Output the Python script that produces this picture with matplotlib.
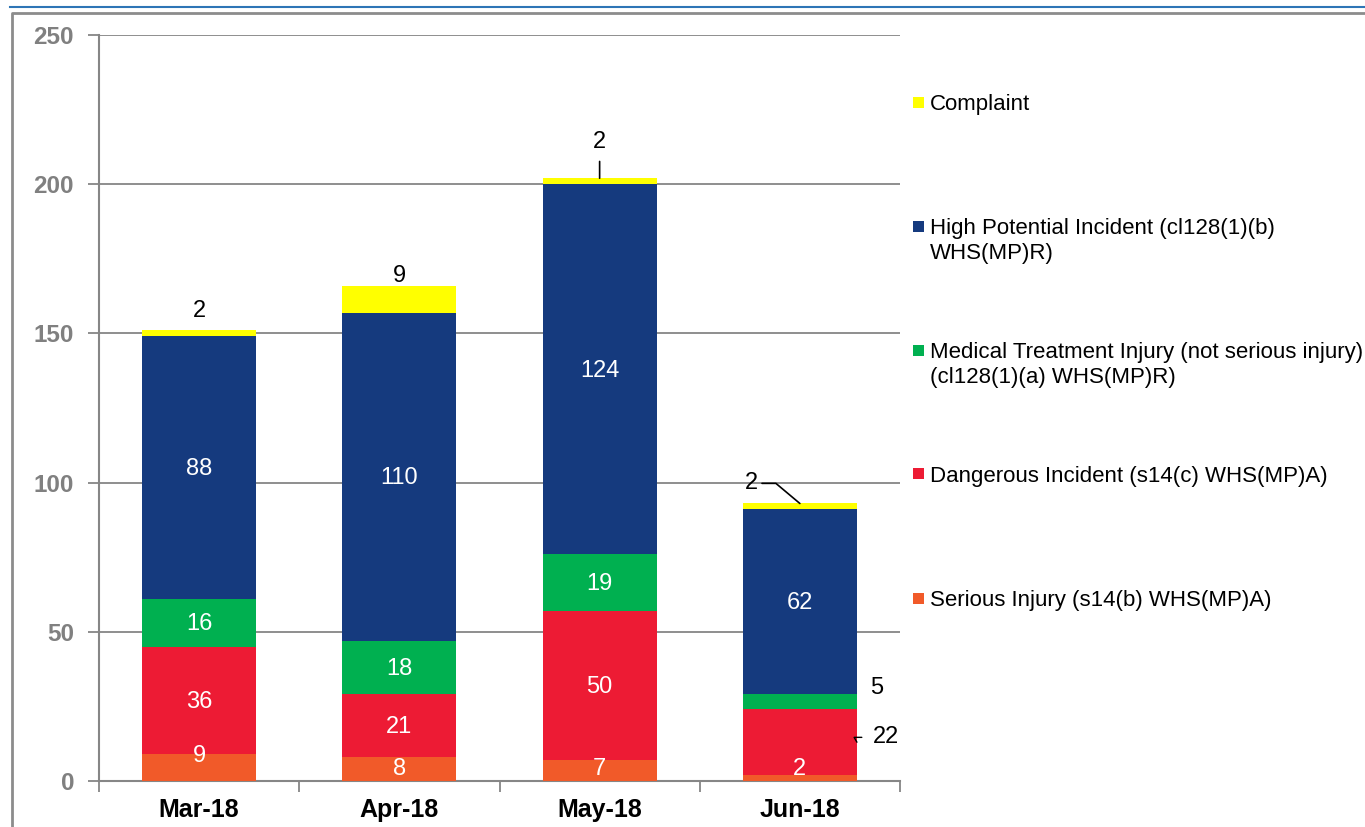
import matplotlib
matplotlib.use('Agg')
import matplotlib.pyplot as plt
from matplotlib.patches import Rectangle
from matplotlib.lines import Line2D
import numpy as np

plt.rcParams['font.family'] = ['Liberation Sans', 'DejaVu Sans']

# ---------------- data ----------------
months = ['Mar-18', 'Apr-18', 'May-18', 'Jun-18']
serious_injury = [9, 8, 7, 2]
dangerous_incident = [36, 21, 50, 22]
medical_treatment = [16, 18, 19, 5]
high_potential = [88, 110, 124, 62]
complaint = [2, 9, 2, 2]

series_names = [
    'Serious Injury (s14(b) WHS(MP)A)',
    'Dangerous Incident (s14(c) WHS(MP)A)',
    'Medical Treatment Injury (not serious injury)\n(cl128(1)(a) WHS(MP)R)',
    'High Potential Incident (cl128(1)(b)\nWHS(MP)R)',
    'Complaint',
]
series_colors = ['#F15A29', '#ED1B34', '#00B050', '#153A7E', '#FFFF00']
y_ticks = [0, 50, 100, 150, 200, 250]

series = [serious_injury, dangerous_incident, medical_treatment, high_potential, complaint]

# ---------------- figure ----------------
W, H = 1365, 827
fig = plt.figure(figsize=(W / 100, H / 100), dpi=100)
ax = fig.add_axes([99 / W, 1 - 781 / H, 801 / W, 746 / H])

x = np.arange(len(months))
bw = 0.57
bottom = np.zeros(len(months))
bars = []
for vals, col in zip(series, series_colors):
    b = ax.bar(x, vals, width=bw, bottom=bottom, color=col, edgecolor='none', zorder=3)
    bars.append((b, bottom.copy(), np.array(vals)))
    bottom = bottom + np.array(vals)

ax.set_xlim(-0.5, 3.5)
ax.set_ylim(0, 250)

grey = '#868686'
ax.set_yticks(y_ticks)
ax.yaxis.grid(True, color=grey, lw=1.3, zorder=0)
ax.set_axisbelow(True)
for s in ['top', 'right']:
    ax.spines[s].set_visible(False)
for s in ['left', 'bottom']:
    ax.spines[s].set_color(grey)
    ax.spines[s].set_linewidth(1.5)
ax.tick_params(axis='y', direction='out', length=8, width=1.3, color=grey,
               labelsize=17.5, labelcolor='#808080', pad=10)
for lab in ax.get_yticklabels():
    lab.set_fontweight('bold')

ax.set_xticks(np.arange(-0.5, 4, 1))
ax.set_xticklabels([])
ax.tick_params(axis='x', which='major', direction='out', length=8, width=1.3, color=grey)
ax.set_xticks(x, minor=True)
ax.set_xticklabels(months, minor=True, fontsize=18, fontweight='bold', color='black')
ax.tick_params(axis='x', which='minor', length=0, pad=12)

# ---------------- data labels ----------------
lab_fs = 17
for si in range(4):
    b, bot, vals = bars[si]
    for i in range(len(months)):
        v = vals[i]
        cy = bot[i] + v / 2.0
        if si == 2 and i == 3:
            ax.annotate(str(v), xy=(i + bw / 2, cy), xytext=(9.5, 10), textcoords='offset points',
                        ha='left', va='center', fontsize=lab_fs, color='black')
            continue
        if si == 1 and i == 3:
            ax.annotate(str(v), xy=(i + bw / 2, cy), xytext=(11.5, 3.5), textcoords='offset points',
                        ha='left', va='center', fontsize=lab_fs, color='black',
                        arrowprops=dict(arrowstyle='-', color='black', lw=1, shrinkA=6, shrinkB=0,
                                        connectionstyle='angle,angleA=0,angleB=-60,rad=0'))
            continue
        cy = max(cy, 4.5)
        dy = 9 if (si == 0 and i == 0) else 0
        ax.annotate(str(v), xy=(i, cy), xytext=(0, dy - 1), textcoords='offset points',
                    ha='center', va='center', fontsize=lab_fs, color='white', zorder=5)

# complaint labels above bars
b, bot, vals = bars[4]
offsets = [(0, 14), (0, 7), (0, 26), (-35, 14.5)]
for i in range(len(months)):
    top = bot[i] + vals[i]
    ox, oy = offsets[i]
    arrow = None
    if i == 2:
        arrow = dict(arrowstyle='-', color='black', lw=1.2, shrinkA=4, shrinkB=0)
    if i == 3:
        arrow = dict(arrowstyle='-', color='black', lw=1.2, shrinkA=1, shrinkB=0,
                     connectionstyle='angle,angleA=0,angleB=-40,rad=0')
    ax.annotate(str(vals[i]), xy=(i, top), xytext=(ox, oy), textcoords='offset points',
                ha='center', va='center', fontsize=lab_fs, color='black', arrowprops=arrow)

# ---------------- legend (manual, Excel style) ----------------
leg_order = [4, 3, 2, 1, 0]
leg_top = 102
leg_step = 124
for k, si in enumerate(leg_order):
    yc = leg_top + k * leg_step
    fig.patches.append(Rectangle((913 / W, 1 - (yc + 5.5) / H), 11 / W, 11 / H,
                                 transform=fig.transFigure, facecolor=series_colors[si],
                                 edgecolor='none'))
    fig.text(930 / W, 1 - (yc - 8) / H, series_names[si], ha='left', va='top',
             fontsize=16, color='black', linespacing=1.25)

# ---------------- frame decorations ----------------
fig.add_artist(Line2D([10 / W, 1], [1 - 7 / H, 1 - 7 / H], color='#2E75B6', lw=1.5,
                      transform=fig.transFigure))
fig.add_artist(Line2D([12 / W, 12 / W, 1], [0, 1 - 13 / H, 1 - 13 / H], color='#8C8C8C', lw=2,
                      transform=fig.transFigure))

fig.savefig('out.png', dpi=100)
